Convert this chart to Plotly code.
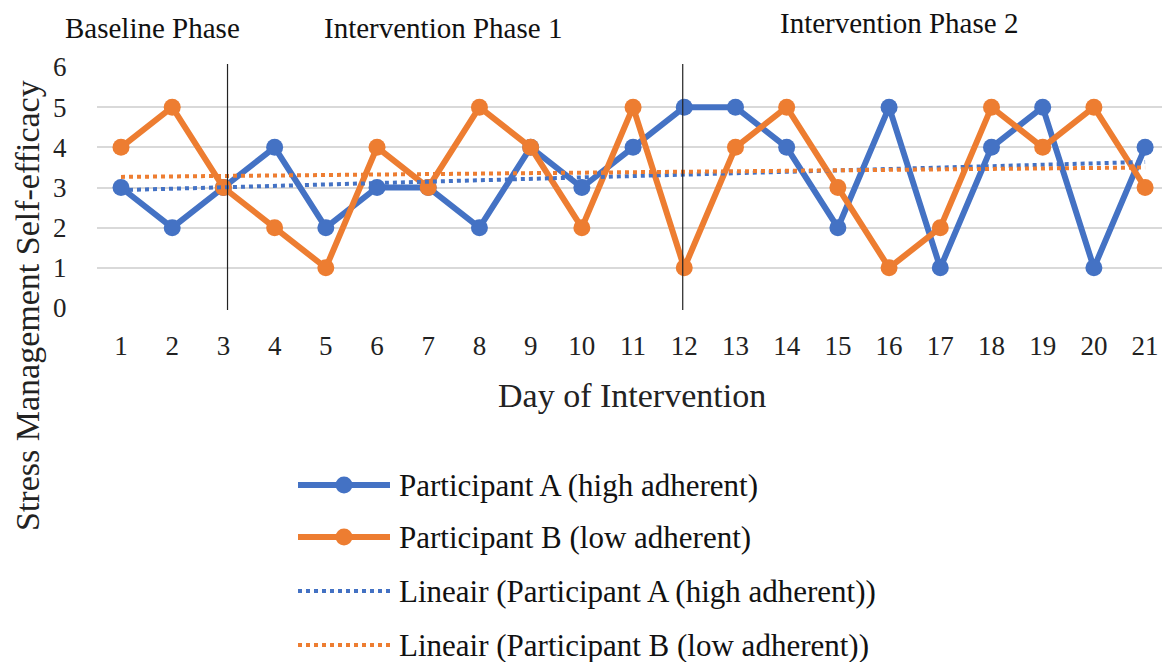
import numpy as np
import plotly.graph_objects as go

# Daily ratings of stress-management self-efficacy (0-6 scale)
days = list(range(1, 22))
participant_a = [3, 2, 3, 4, 2, 3, 3, 2, 4, 3, 4, 5, 5, 4, 2, 5, 1, 4, 5, 1, 4]
participant_b = [4, 5, 3, 2, 1, 4, 3, 5, 4, 2, 5, 1, 4, 5, 3, 1, 2, 5, 4, 5, 3]

series_names = [
    "Participant A (high adherent)",
    "Participant B (low adherent)",
    "Lineair (Participant A (high adherent))",
    "Lineair (Participant B (low adherent))",
]
phase_labels = ["Baseline Phase", "Intervention Phase 1", "Intervention Phase 2"]
phase_breaks = [3.08, 11.97]

BLUE = "#4472C4"
ORANGE = "#ED7D31"
FONT = "'Times New Roman', 'Liberation Serif', 'DejaVu Serif', serif"

W, H = 1162, 662
L, R, T, B = 97, 0, 67, 354
PW, PH = W - L - R, H - T - B


def px_x(x):
    return (x - L) / PW


def px_y(y):
    return (H - B - y) / PH


def trend(values):
    slope, intercept = np.polyfit(days, values, 1)
    return [slope * d + intercept for d in days]


fig = go.Figure()

for vals, color, name in [(participant_a, BLUE, series_names[0]),
                          (participant_b, ORANGE, series_names[1])]:
    fig.add_trace(go.Scatter(
        x=days, y=vals, mode="lines+markers", name=name,
        line=dict(color=color, width=6),
        marker=dict(color=color, size=17),
        cliponaxis=False,
    ))

for vals, color, name in [(participant_a, BLUE, series_names[2]),
                          (participant_b, ORANGE, series_names[3])]:
    fig.add_trace(go.Scatter(
        x=days, y=trend(vals), mode="lines", name=name,
        line=dict(color=color, width=4, dash="dot"),
    ))

shapes = []
# phase separators
for xb in phase_breaks:
    shapes.append(dict(type="line", xref="x", yref="paper", x0=xb, x1=xb,
                       y0=px_y(310), y1=px_y(64),
                       line=dict(color="#222222", width=1.2)))

annotations = []
phase_pos = [(152, 28), (443, 28), (899, 23)]
for text, (cx, cy) in zip(phase_labels, phase_pos):
    annotations.append(dict(text=text, xref="paper", yref="paper",
                            x=px_x(cx), y=px_y(cy), showarrow=False,
                            xanchor="center", yanchor="middle",
                            font=dict(family=FONT, size=29, color="#111111")))

# y-axis title
annotations.append(dict(text="Stress Management Self-efficacy", xref="paper", yref="paper",
                        x=px_x(27), y=px_y(306), showarrow=False, textangle=-90,
                        xanchor="center", yanchor="middle",
                        font=dict(family=FONT, size=34, color="#222222")))
# x-axis title
annotations.append(dict(text="Day of Intervention", xref="paper", yref="paper",
                        x=px_x(632), y=px_y(395), showarrow=False,
                        xanchor="center", yanchor="middle",
                        font=dict(family=FONT, size=34, color="#222222")))

# legend block below the chart
legend_rows = [485, 537, 591, 645]
legend_styles = [(BLUE, "solid", 6, True), (ORANGE, "solid", 6, True),
                 (BLUE, "dot", 4, False), (ORANGE, "dot", 4, False)]
for name, ry, (color, dash, width, has_marker) in zip(series_names, legend_rows, legend_styles):
    shapes.append(dict(type="line", xref="paper", yref="paper",
                       x0=px_x(298), x1=px_x(390), y0=px_y(ry), y1=px_y(ry),
                       line=dict(color=color, width=width, dash=dash)))
    if has_marker:
        shapes.append(dict(type="circle", xref="paper", yref="paper",
                           xsizemode="pixel", ysizemode="pixel",
                           xanchor=px_x(344), yanchor=px_y(ry),
                           x0=-8.5, x1=8.5, y0=-8.5, y1=8.5,
                           fillcolor=color, line=dict(color=color, width=0)))
    annotations.append(dict(text=name, xref="paper", yref="paper",
                            x=px_x(397), y=px_y(ry), showarrow=False,
                            xanchor="left", yanchor="middle",
                            font=dict(family=FONT, size=31, color="#111111")))

fig.update_layout(
    width=W, height=H,
    margin=dict(l=L, r=R, t=T, b=B, pad=0),
    paper_bgcolor="white", plot_bgcolor="white",
    showlegend=False,
    shapes=shapes, annotations=annotations,
    font=dict(family=FONT, color="#222222"),
)
fig.update_xaxes(
    range=[0.531, 21.33], tickmode="array", tickvals=days,
    ticktext=[str(d) for d in days],
    showgrid=False, zeroline=False, showline=False,
    ticks="outside", ticklen=14, tickcolor="rgba(0,0,0,0)",
    tickfont=dict(family=FONT, size=27, color="#222222"),
)
fig.update_yaxes(
    range=[0, 6], tickvals=[0, 1, 2, 3, 4, 5, 6],
    showgrid=True, gridcolor="#D9D9D9", gridwidth=2,
    zeroline=False, showline=False,
    ticks="outside", ticklen=24, tickcolor="rgba(0,0,0,0)",
    tickfont=dict(family=FONT, size=27, color="#222222"),
)

fig.write_html("out.html")
